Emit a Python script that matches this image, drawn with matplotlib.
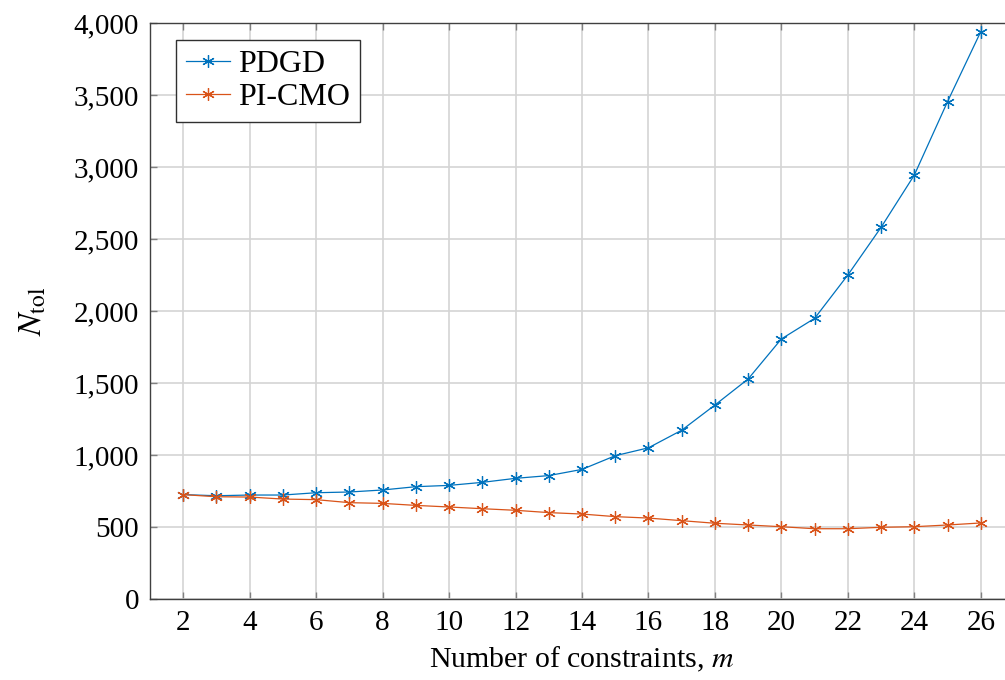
import numpy as np
import matplotlib
matplotlib.use('Agg')
import matplotlib.pyplot as plt
from matplotlib.ticker import FuncFormatter

plt.rcParams['font.family'] = ['Liberation Serif', 'DejaVu Serif']
plt.rcParams['mathtext.fontset'] = 'stix'

m = np.arange(2, 27)
pdgd = [725, 717, 722, 722, 738, 743, 757, 780, 789, 810, 838, 857, 900,
        995, 1050, 1172, 1347, 1528, 1806, 1949, 2250, 2581, 2944, 3454, 3940]
picmo = [725, 710, 708, 694, 690, 669, 664, 650, 639, 627, 616, 600, 590,
         572, 562, 544, 526, 514, 502, 488, 488, 498, 502, 514, 528]
labels = ['PDGD', 'PI-CMO']
colors = ['#0072BD', '#D95319']

fig = plt.figure(figsize=(10.05, 6.8), dpi=100)
ax = fig.add_axes([150 / 1005, 81 / 680, 864 / 1005, 576 / 680])

star = (6, 2, 0)
for y, lab, c in zip([pdgd, picmo], labels, colors):
    ax.plot(m, y, color=c, lw=0.9, marker=star, markersize=9,
            markeredgewidth=0.9, label=lab)

ax.set_xlim(1, 27)
ax.set_ylim(0, 4000)
ax.set_xticks(np.arange(2, 27, 2))
ax.set_yticks(np.arange(0, 4001, 500))
ax.yaxis.set_major_formatter(FuncFormatter(lambda v, p: '{:,.0f}'.format(v)))
ax.tick_params(direction='in', length=5, width=1, color='#808080',
               top=True, right=True, labelsize=21, pad=8)
ax.grid(True, color='#d4d4d4', lw=1.2)
ax.set_axisbelow(True)
for s in ax.spines.values():
    s.set_color('#404040')
    s.set_linewidth(1.0)

ax.set_xlabel('Number of constraints, $m$', fontsize=21.5, labelpad=6)
ax.set_ylabel(r'$N_{\mathrm{tol}}$', fontsize=24, labelpad=18)

leg = ax.legend(loc='upper left', bbox_to_anchor=(0.03, 0.97), fontsize=23,
                fancybox=False, framealpha=1, edgecolor='#303030',
                handlelength=1.4, handletextpad=0.25, borderpad=0.3,
                labelspacing=0.12, borderaxespad=0)
leg.get_frame().set_linewidth(1.0)

fig.savefig('out.png', dpi=100)
